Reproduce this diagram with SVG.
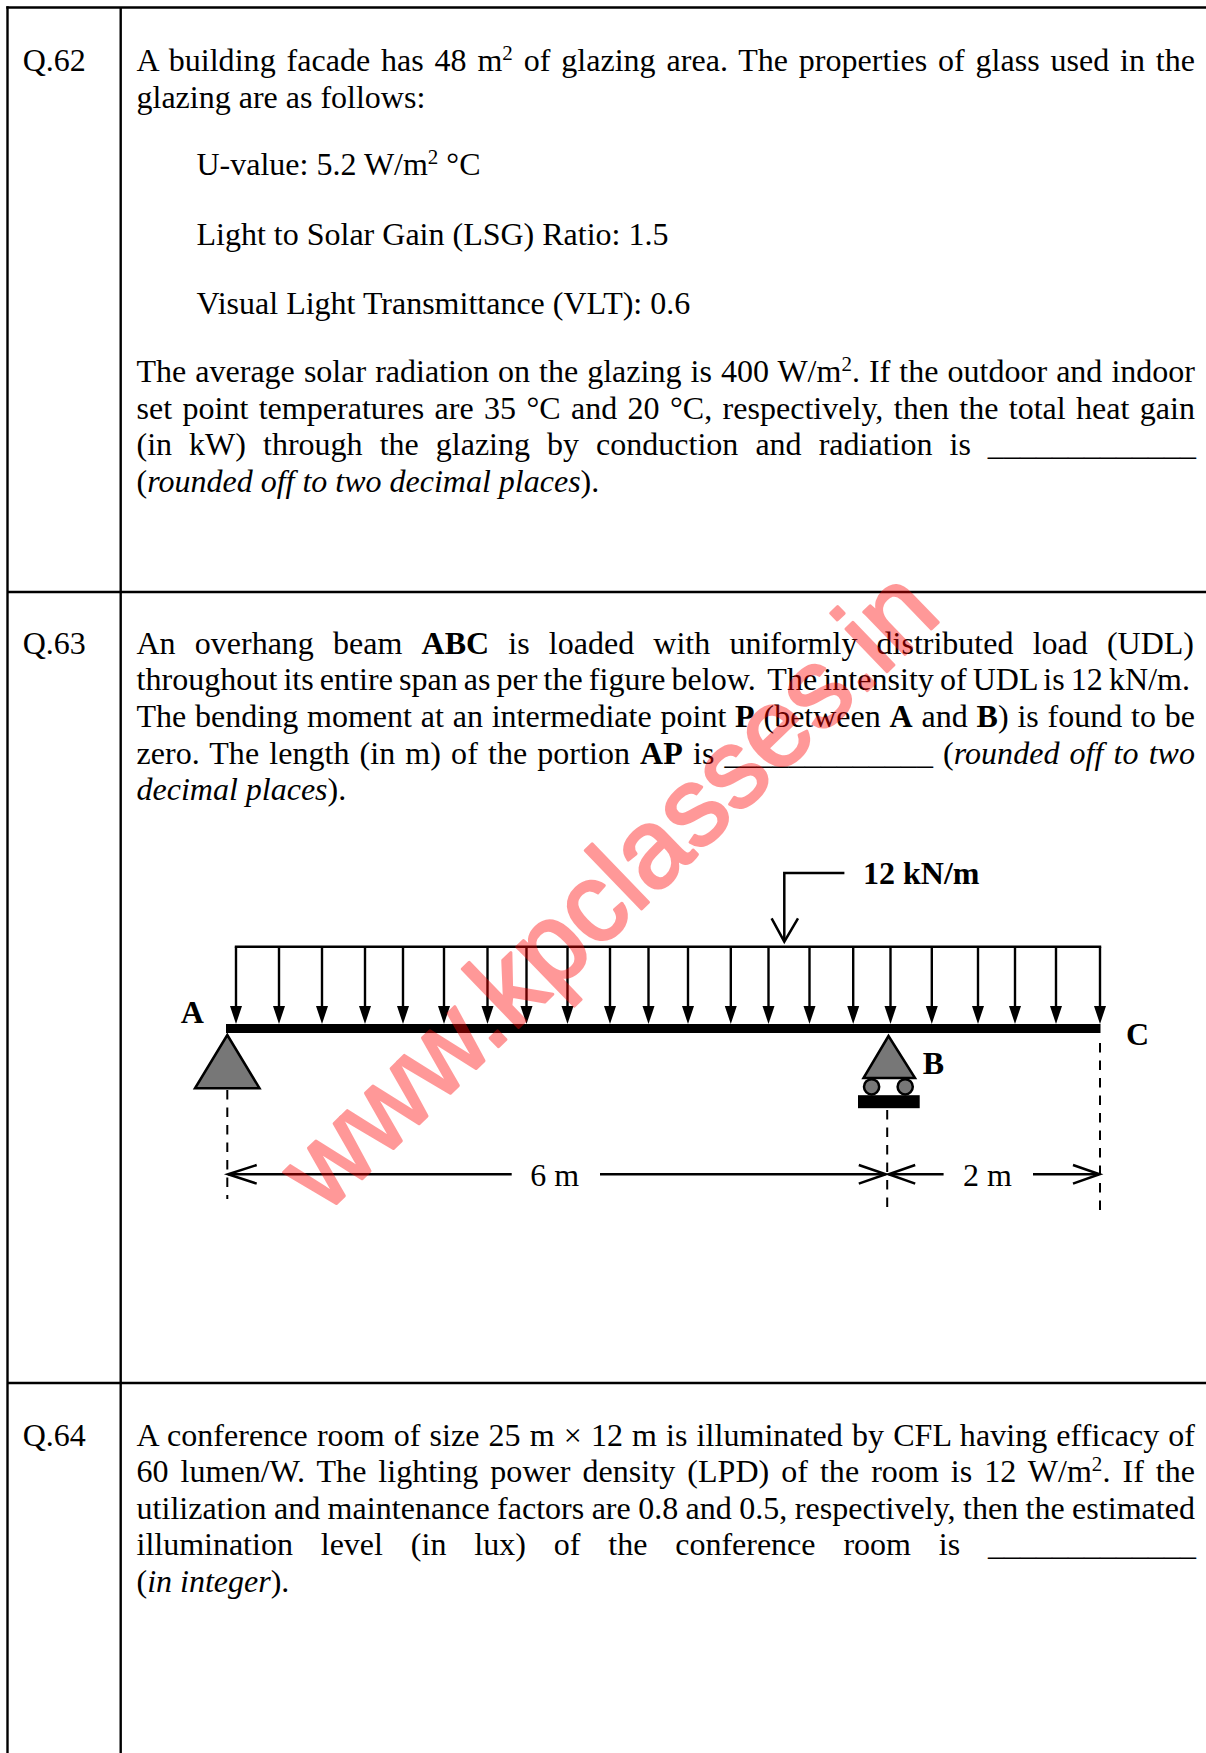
<svg xmlns="http://www.w3.org/2000/svg" width="1206" height="1753" viewBox="0 0 1206 1753">
<style>
.t{font-family:"Liberation Serif","Times New Roman",serif;font-size:32px;fill:#000}
.b{font-weight:bold}
.i{font-style:italic}
.sup{font-size:21px}
.grid{stroke:#000;stroke-width:2.4;fill:none}
.ln{stroke:#000;stroke-width:2.5;fill:none}
.dash{stroke:#000;stroke-width:2;stroke-dasharray:9.5 8;fill:none}
.sup-fill{fill:#777;stroke:#000;stroke-width:2.5}
.wm{font-family:"Liberation Sans",Arial,sans-serif;font-size:112px;fill:#ff0000;stroke:#ff0000;stroke-width:3;stroke-linejoin:round}
</style>
<defs>
<g id="udl"><line x1="0" y1="946.7" x2="0" y2="1008" stroke="#000" stroke-width="2.4"/><path d="M-6,1006 L6,1006 L0,1024 Z" fill="#000"/></g>
</defs>
<rect width="1206" height="1753" fill="#fff"/>
<g id="table">
<line class="grid" x1="6.3" y1="7.5" x2="1206" y2="7.5"/>
<line class="grid" x1="7.5" y1="6.3" x2="7.5" y2="1753"/>
<line class="grid" x1="120.7" y1="7.5" x2="120.7" y2="1753"/>
<line class="grid" x1="7.5" y1="592" x2="1206" y2="592"/>
<line class="grid" x1="7.5" y1="1383" x2="1206" y2="1383"/>
</g>
<g id="q62">
<text class="t" x="22.7" y="71">Q.62</text>
<text class="t" x="136.5" y="71" textLength="1058.5" lengthAdjust="spacing" style="word-spacing:2.75px">A building facade has 48 m<tspan class="sup" dy="-11">2</tspan><tspan dy="11"> of glazing area. The properties of glass used in the</tspan></text>
<text class="t" x="136.5" y="108">glazing are as follows:</text>
<text class="t" x="196.5" y="175">U-value: 5.2 W/m<tspan class="sup" dy="-11">2</tspan><tspan dy="11"> °C</tspan></text>
<text class="t" x="196.5" y="244.5">Light to Solar Gain (LSG) Ratio: 1.5</text>
<text class="t" x="196.5" y="313.5">Visual Light Transmittance (VLT): 0.6</text>
<text class="t" x="136.5" y="382" textLength="1058.5" lengthAdjust="spacing" style="word-spacing:1.05px">The average solar radiation on the glazing is 400 W/m<tspan class="sup" dy="-11">2</tspan><tspan dy="11">. If the outdoor and indoor</tspan></text>
<text class="t" x="136.5" y="418.5" textLength="1058.5" lengthAdjust="spacing" style="word-spacing:2.3px">set point temperatures are 35 °C and 20 °C, respectively, then the total heat gain</text>
<text class="t" x="136.5" y="455" textLength="1059.5" lengthAdjust="spacing" style="word-spacing:9px">(in kW) through the glazing by conduction and radiation is _____________</text>
<text class="t" x="136.5" y="491.5">(<tspan class="i">rounded off to two decimal places</tspan>).</text>
</g>
<g id="q63">
<text class="t" x="22.7" y="653.5">Q.63</text>
<text class="t" x="136.5" y="653.5" textLength="1057.5" lengthAdjust="spacing" style="word-spacing:11.2px">An overhang beam <tspan class="b">ABC</tspan> is loaded with uniformly distributed load (UDL)</text>
<text class="t" x="136.5" y="690" textLength="1053.5" lengthAdjust="spacing" style="word-spacing:-2.04px">throughout its entire span as per the figure below.&#160; The intensity of UDL is 12 kN/m.</text>
<text class="t" x="136.5" y="726.5" textLength="1058.5" lengthAdjust="spacing" style="word-spacing:0.8px">The bending moment at an intermediate point <tspan class="b">P</tspan> (between <tspan class="b">A</tspan> and <tspan class="b">B</tspan>) is found to be</text>
<text class="t" x="136.5" y="763.5" textLength="1058.5" lengthAdjust="spacing" style="word-spacing:2.1px">zero. The length (in m) of the portion <tspan class="b">AP</tspan> is _____________ (<tspan class="i">rounded off to two</tspan></text>
<text class="t" x="136.5" y="800"><tspan class="i">decimal places</tspan>).</text>
</g>
<g id="q64">
<text class="t" x="22.7" y="1445.5">Q.64</text>
<text class="t" x="136.5" y="1445.5" textLength="1058.5" lengthAdjust="spacing" style="word-spacing:1px">A conference room of size 25 m × 12 m is illuminated by CFL having efficacy of</text>
<text class="t" x="136.5" y="1482" textLength="1058.5" lengthAdjust="spacing" style="word-spacing:3.9px">60 lumen/W. The lighting power density (LPD) of the room is 12 W/m<tspan class="sup" dy="-11">2</tspan><tspan dy="11">. If the</tspan></text>
<text class="t" x="136.5" y="1518.5" textLength="1058.5" lengthAdjust="spacing" style="word-spacing:-0.7px">utilization and maintenance factors are 0.8 and 0.5, respectively, then the estimated</text>
<text class="t" x="136.5" y="1555" textLength="1059.5" lengthAdjust="spacing" style="word-spacing:19.9px">illumination level (in lux) of the conference room is _____________</text>
<text class="t" x="136.5" y="1592">(<tspan class="i">in integer</tspan>).</text>
</g>
<g id="beam-figure">
<g id="udl-load">
<line class="ln" x1="234.8" y1="946.7" x2="1101.2" y2="946.7" stroke-width="2.7"/>
<use href="#udl" x="236"/><use href="#udl" x="279"/><use href="#udl" x="322"/><use href="#udl" x="365"/>
<use href="#udl" x="403"/><use href="#udl" x="444"/><use href="#udl" x="487.5"/><use href="#udl" x="526.5"/>
<use href="#udl" x="567.5"/><use href="#udl" x="610"/><use href="#udl" x="648.5"/><use href="#udl" x="688"/>
<use href="#udl" x="730.8"/><use href="#udl" x="768.5"/><use href="#udl" x="809.5"/><use href="#udl" x="853.2"/>
<use href="#udl" x="890.5"/><use href="#udl" x="931.8"/><use href="#udl" x="978"/><use href="#udl" x="1015"/>
<use href="#udl" x="1056"/><use href="#udl" x="1100"/>
</g>
<g id="load-label">
<path class="ln" d="M844.4,873 H784.3 V941"/>
<path class="ln" d="M771.6,918.3 L784.3,941.7 L798,918.3"/>
<text class="t b" x="863" y="883.5">12 kN/m</text>
</g>
<g id="beam"><rect x="226" y="1024" width="874.5" height="9" fill="#000"/></g>
<g id="support-A">
<path class="sup-fill" d="M227.3,1035 L259.5,1088.3 L195,1088.3 Z"/>
<text class="t b" x="180.7" y="1023.3">A</text>
</g>
<g id="support-B">
<path class="sup-fill" d="M888.5,1036 L915,1078 L863.5,1078 Z"/>
<circle class="sup-fill" cx="871.6" cy="1086.8" r="7.6"/>
<circle class="sup-fill" cx="905.2" cy="1086.8" r="7.6"/>
<rect x="858" y="1095.2" width="61.7" height="13" fill="#000"/>
<text class="t b" x="922.8" y="1074">B</text>
</g>
<g id="point-C"><text class="t b" x="1126" y="1045">C</text></g>
<g id="connectors">
<line class="dash" x1="227.3" y1="1090" x2="227.3" y2="1199"/>
<line class="dash" x1="887.2" y1="1110" x2="887.2" y2="1210"/>
<line class="dash" x1="1100" y1="1043" x2="1100" y2="1218"/>
<line class="ln" x1="228" y1="1174.3" x2="511.7" y2="1174.3"/>
<line class="ln" x1="600" y1="1174.3" x2="885.5" y2="1174.3"/>
<line class="ln" x1="888.5" y1="1174.3" x2="943.6" y2="1174.3"/>
<line class="ln" x1="1033" y1="1174.3" x2="1099" y2="1174.3"/>
<path class="ln" d="M256.7,1165 L228,1174.3 L256.7,1183.6"/>
<path class="ln" d="M858.8,1165 L885.8,1174.3 L858.8,1183.6"/>
<path class="ln" d="M915.2,1165 L888.6,1174.3 L915.2,1183.6"/>
<path class="ln" d="M1073,1165 L1099.6,1174.3 L1073,1183.6"/>
<text class="t" x="530.3" y="1185.5">6 m</text>
<text class="t" x="963" y="1185.5">2 m</text>
</g>
</g>
<g id="watermark" opacity="0.4">
<text class="wm" x="0" y="0" text-anchor="middle" textLength="860" lengthAdjust="spacingAndGlyphs" transform="translate(634,916) rotate(-44)">www.kpclasses.in</text>
</g>
</svg>
